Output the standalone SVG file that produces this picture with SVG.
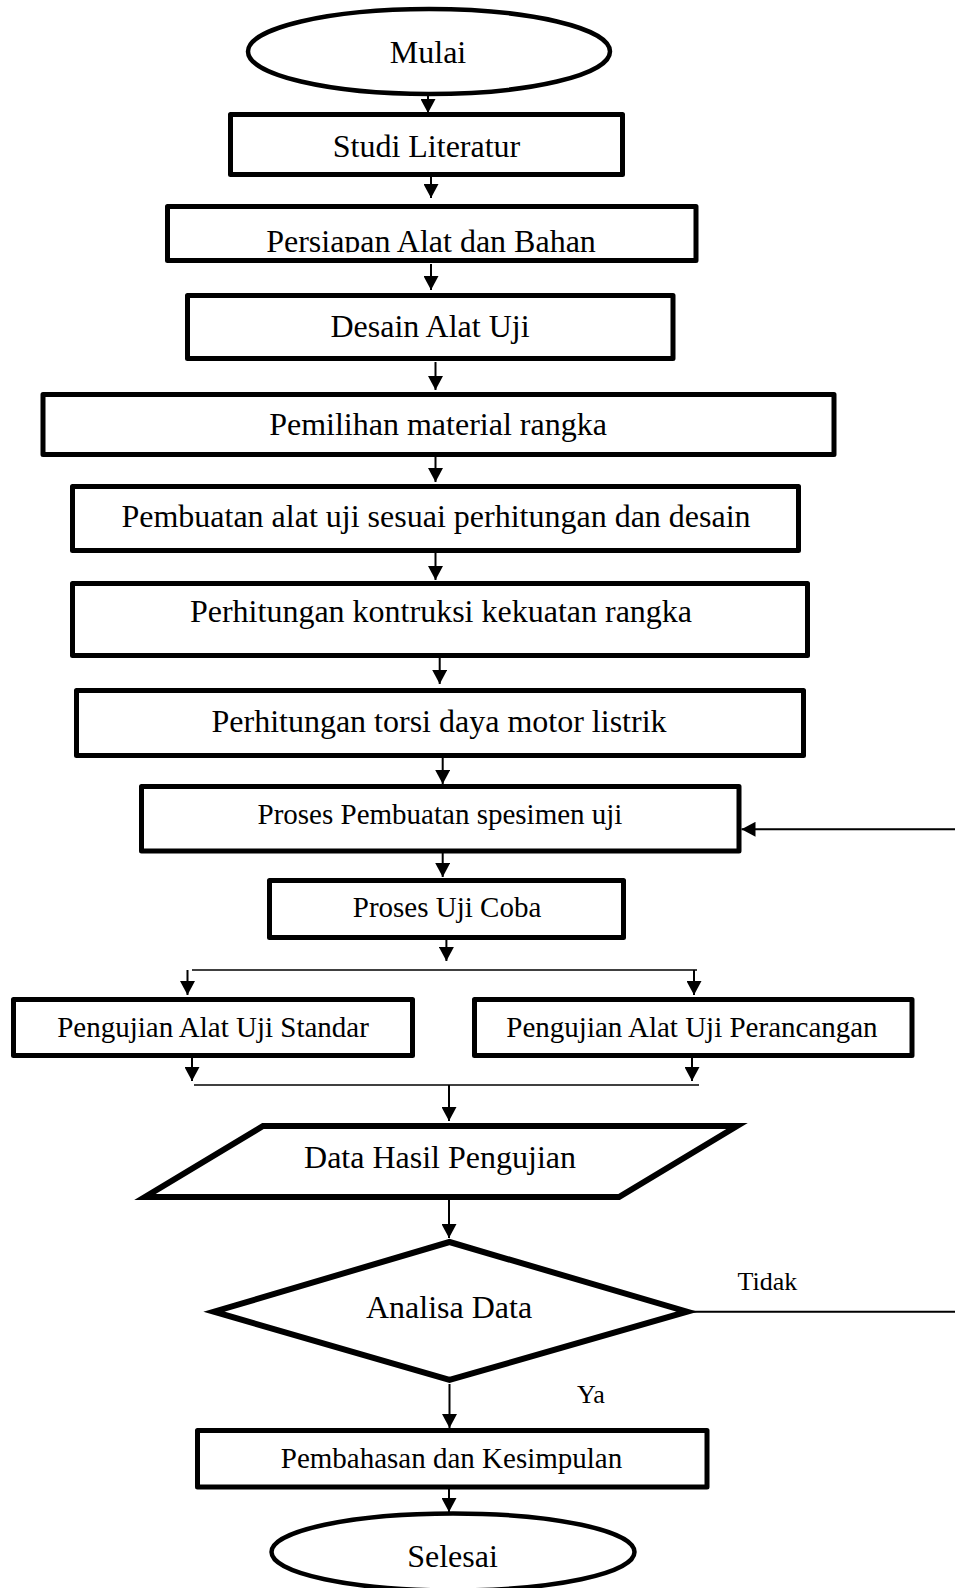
<svg xmlns="http://www.w3.org/2000/svg" width="955" height="1588" viewBox="0 0 955 1588">
<style>
  .box { fill: #fff; stroke: #000; stroke-width: 5; stroke-linejoin: round; }
  .term { fill: #fff; stroke: #000; stroke-width: 4.5; }
  .shape { fill: #fff; stroke: #000; stroke-width: 6; stroke-linejoin: miter; }
  .t32 { font-family: "Liberation Serif", "Times New Roman", serif; font-size: 32px; fill: #000; text-anchor: middle; }
  .t29 { font-family: "Liberation Serif", "Times New Roman", serif; font-size: 29px; fill: #000; text-anchor: middle; }
  .t26 { font-family: "Liberation Serif", "Times New Roman", serif; font-size: 26px; fill: #000; }
  .arr { fill: none; stroke: #000; stroke-width: 2; marker-end: url(#ah); }
  .ln { fill: none; stroke: #000; stroke-width: 1.6; }
</style>
<defs>
  <marker id="ah" viewBox="0 0 14 15" refX="14" refY="7.5" markerWidth="14" markerHeight="15" markerUnits="userSpaceOnUse" orient="auto">
    <path d="M0,0 L14,7.5 L0,15 Z" fill="#000"/>
  </marker>
  <clipPath id="clipPersiapan">
    <rect x="150" y="200" width="560" height="52.5"/>
  </clipPath>
</defs>
<rect width="955" height="1588" fill="#fff"/>

<g id="connectors">
  <path class="arr" d="M428,95 V113"/>
  <path class="arr" d="M431,177 V198"/>
  <path class="arr" d="M431,264 V290"/>
  <path class="arr" d="M435.5,362 V390"/>
  <path class="arr" d="M435.5,457 V482"/>
  <path class="arr" d="M435.5,553 V580"/>
  <path class="arr" d="M439.7,658 V684"/>
  <path class="arr" d="M442.7,758 V784"/>
  <path class="arr" d="M442.7,853 V877"/>
  <path class="arr" d="M446.4,940 V961"/>
  <path class="ln" d="M192,970 H697"/>
  <path class="arr" d="M187.5,970 V995"/>
  <path class="arr" d="M694,970 V995"/>
  <path class="arr" d="M192,1058 V1081"/>
  <path class="arr" d="M692,1058 V1081"/>
  <path class="ln" d="M194,1085 H699"/>
  <path class="arr" d="M449,1085 V1121"/>
  <path class="arr" d="M449,1200 V1238"/>
  <path class="arr" d="M449.5,1384 V1428"/>
  <path class="arr" d="M449,1489 V1512"/>
  <path class="arr" d="M692,1311.7 H962 V829.3 H741.5"/>
</g>

<g id="n-mulai">
  <ellipse class="term" cx="429" cy="51.5" rx="181" ry="42.5"/>
  <text class="t32" x="428" y="62.5">Mulai</text>
</g>
<g id="n-studi">
  <rect class="box" x="230.5" y="114.5" width="392" height="60"/>
  <text class="t32" x="426.5" y="157">Studi Literatur</text>
</g>
<g id="n-persiapan">
  <rect class="box" x="167.5" y="206.5" width="528.5" height="54"/>
  <text class="t32" x="431" y="251.5" clip-path="url(#clipPersiapan)">Persiapan Alat dan Bahan</text>
</g>
<g id="n-desain">
  <rect class="box" x="187.5" y="295.5" width="485.5" height="63"/>
  <text class="t32" x="430" y="337">Desain Alat Uji</text>
</g>
<g id="n-pemilihan">
  <rect class="box" x="43" y="394.5" width="791" height="60"/>
  <text class="t32" x="438" y="435">Pemilihan material rangka</text>
</g>
<g id="n-pembuatan">
  <rect class="box" x="72.5" y="486.5" width="726" height="64"/>
  <text class="t32" x="436" y="527">Pembuatan alat uji sesuai perhitungan dan desain</text>
</g>
<g id="n-kontruksi">
  <rect class="box" x="72.5" y="583.5" width="735" height="72"/>
  <text class="t32" x="441" y="621.5">Perhitungan kontruksi kekuatan rangka</text>
</g>
<g id="n-torsi">
  <rect class="box" x="76.5" y="690.5" width="727" height="65"/>
  <text class="t32" x="439" y="731.5">Perhitungan torsi daya motor listrik</text>
</g>
<g id="n-spesimen">
  <rect class="box" x="141.5" y="786.5" width="597.5" height="64.5"/>
  <text class="t29" x="440" y="824">Proses Pembuatan spesimen uji</text>
</g>
<g id="n-ujicoba">
  <rect class="box" x="269.5" y="880.5" width="354" height="57"/>
  <text class="t29" x="447" y="916.5">Proses Uji Coba</text>
</g>
<g id="n-standar">
  <rect class="box" x="13.5" y="999.5" width="399" height="56"/>
  <text class="t29" x="213" y="1036.5">Pengujian Alat Uji Standar</text>
</g>
<g id="n-perancangan">
  <rect class="box" x="474.5" y="999.5" width="437.5" height="56"/>
  <text class="t29" x="692" y="1036.5">Pengujian Alat Uji Perancangan</text>
</g>
<g id="n-data">
  <polygon class="shape" points="263,1126 737,1126 619,1197 145,1197"/>
  <text class="t32" x="440" y="1168">Data Hasil Pengujian</text>
</g>
<g id="n-analisa">
  <polygon class="shape" points="449.5,1242 687,1311.7 449.5,1380 214,1311.7"/>
  <text class="t32" x="449" y="1318">Analisa Data</text>
</g>
<text class="t26" x="737.5" y="1290">Tidak</text>
<text class="t26" x="577" y="1403">Ya</text>
<g id="n-pembahasan">
  <rect class="box" x="197.5" y="1430.5" width="509.5" height="56.5"/>
  <text class="t29" x="451.5" y="1468">Pembahasan dan Kesimpulan</text>
</g>
<g id="n-selesai">
  <ellipse class="term" cx="453" cy="1552" rx="181.5" ry="38.5"/>
  <text class="t32" x="452.5" y="1567">Selesai</text>
</g>
</svg>
